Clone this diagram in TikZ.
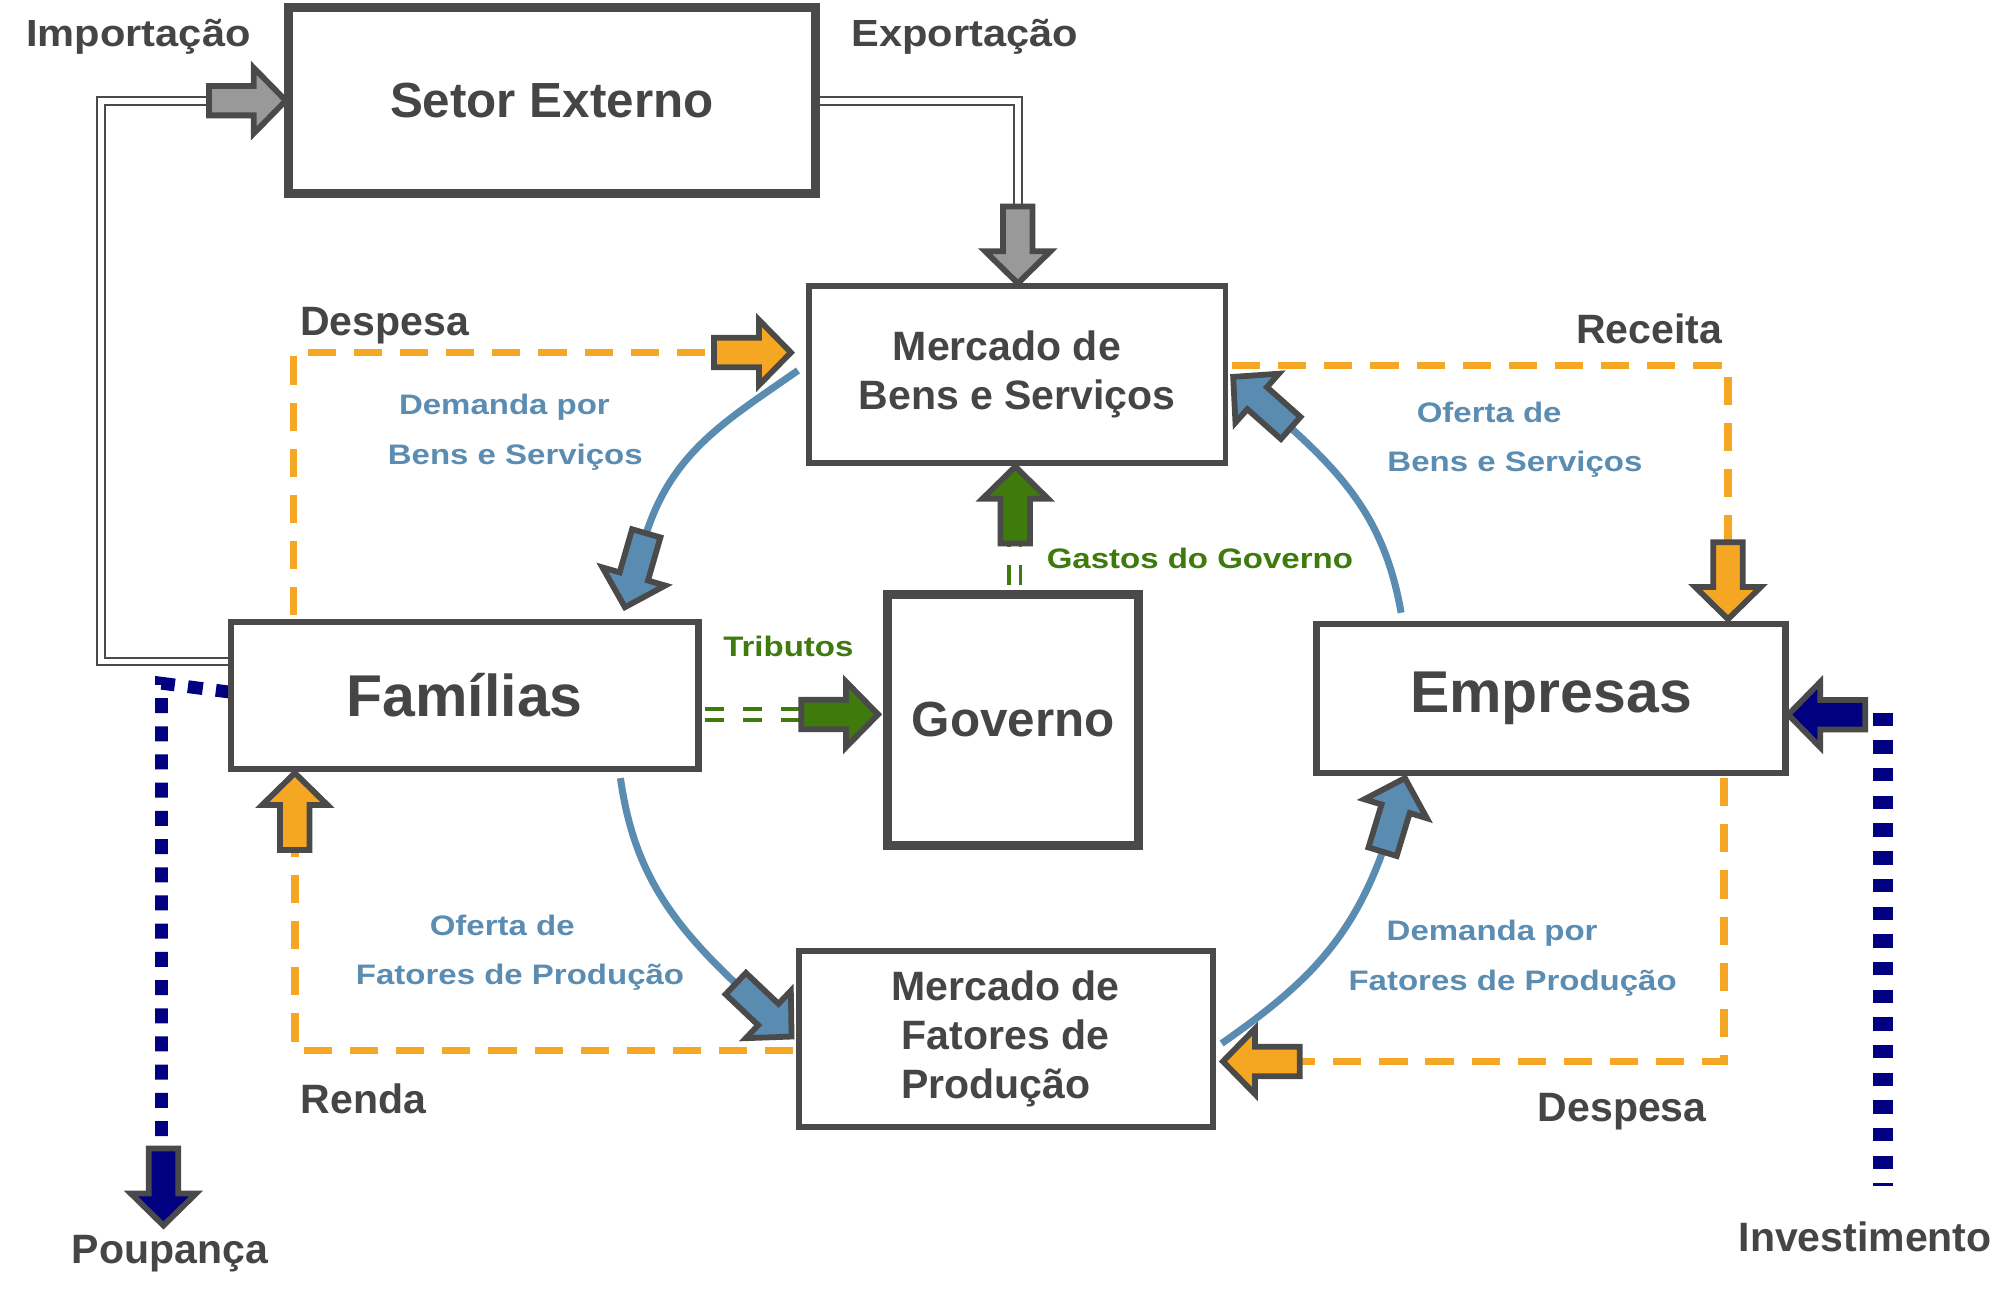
\documentclass[tikz,border=0pt]{standalone}
\usepackage{fontspec}
\setmainfont{Liberation Sans}
\newfontfamily\widefont[FakeStretch=1.17]{Liberation Sans}
\newfontfamily\semiwidefont[FakeStretch=1.1]{Liberation Sans}
\usetikzlibrary{calc}
\definecolor{dg}{HTML}{4A4A4A}
\definecolor{txt}{HTML}{454545}
\definecolor{org}{HTML}{F5A623}
\definecolor{stb}{HTML}{5A8BB0}
\definecolor{stbt}{HTML}{5B8DB3}
\definecolor{grn}{HTML}{3E7A0C}
\definecolor{nvy}{HTML}{000080}
\definecolor{gfill}{HTML}{999999}
\newcommand\blockarrow[3]{%
  \draw[arrowline,fill=#1,shift={(#2)},rotate={-1*(#3)}] (0,0) -- (-25,-25.5) -- (-25,-11.5) -- (-60,-11.5) -- (-60,11.5) -- (-25,11.5) -- (-25,25.5) -- cycle;}
\begin{document}
\begin{tikzpicture}[x=1pt,y=-1pt,
  arrowline/.style={draw=dg, line width=4.5pt, line join=miter, miter limit=10},
  box/.style={draw=dg, fill=white, line width=4.5pt, inner sep=0pt, text=txt},
  dbl/.style={draw=dg, line width=1.6pt, double=white, double distance=4.5pt},
  odash/.style={draw=org, line width=6pt, dash pattern=on 22pt off 14pt},
  bluearc/.style={draw=stb, line width=5.5pt},
  nvyP/.style={draw=nvy, line width=10pt, dash pattern=on 11.7pt off 10.3pt},
  nvyI/.style={draw=nvy, line width=16pt, dash pattern=on 10.4pt off 11.2pt},
  gdash/.style={draw=grn, line width=2.6pt, dash pattern=on 15pt off 14.6pt},
  glabel/.style={text=txt, font=\bfseries\fontsize{32}{38}\selectfont, anchor=base, inner sep=0pt},
  wlabel/.style={text=txt, font=\semiwidefont\bfseries\fontsize{29.5}{35}\selectfont, anchor=base, inner sep=0pt},
  blabel/.style={text=stbt, font=\widefont\bfseries\fontsize{22}{26}\selectfont, anchor=base, inner sep=0pt},
  grlabel/.style={text=grn, font=\widefont\bfseries\fontsize{22}{26}\selectfont, anchor=base, inner sep=0pt}
]
\useasboundingbox (0,0) rectangle (1568,1007);
\fill[white] (0,0) rectangle (1568,1007);

% arrow tips and rears
\coordinate (impTip) at (223,78.5);   \coordinate (impRear) at (163,78.5);
\coordinate (expTip) at (794,221);    \coordinate (expRear) at (794,161);
\coordinate (dATip) at (617,275);     \coordinate (dARear) at (557,275);
\coordinate (recTip) at (1348,483);   \coordinate (recRear) at (1348,423);
\coordinate (renTip) at (230,603);    \coordinate (renRear) at (230,663);
\coordinate (dBTip) at (954,828);     \coordinate (dBRear) at (1014,828);
\coordinate (invTip) at (1395,557.5); \coordinate (invRear) at (1455,557.5);
\coordinate (poTip) at (127.5,956);   \coordinate (poRear) at (127.5,896);
\coordinate (trTip) at (685,557.3);   \coordinate (trRear) at (625,557.3);
\coordinate (gaTip) at (792,364);     \coordinate (gaRear) at (792,424);
\coordinate (bATip) at (487.5,473.7); \coordinate (bARear) at (504.1,416.1);
\coordinate (bBTip) at (962,294);     \coordinate (bBRear) at (1006.9,333.8);
\coordinate (bCTip) at (617.5,808.6); \coordinate (bCRear) at (574,767.3);
\coordinate (bDTip) at (1096,607);    \coordinate (bDRear) at (1078.6,664.4);

% connector ends at boxes
\coordinate (famImp) at (180,516);
\coordinate (setE) at (636,78.5);
\coordinate (famTop) at (229,480);
\coordinate (mbsE) at (961,285);
\coordinate (mfpW) at (619,819.5);
\coordinate (empBot) at (1345,607);
\coordinate (famPo) at (180,540);
\coordinate (invTop) at (1469,556);
\coordinate (invEnd) at (1469,925);
\coordinate (mbsL) at (622.5,289);
\coordinate (empTop) at (1093,478);
\coordinate (famBot) at (484,607);
\coordinate (mfpR) at (953,814);

% double gray lines
\draw[dbl] (famImp) -- (78.5,516) |- (impRear);
\draw[dbl] (setE) -| (expRear);

% orange dashed
\draw[odash] (famTop) |- (dARear);
\draw[odash] (mbsE) -| (recRear);
\draw[odash] (mfpW) -| (renRear);
\draw[odash] (empBot) |- (dBRear);

% navy dotted
\draw[nvyP] (famPo) -- (126,533) -- (126,896);
\draw[nvyI] (invTop) -- (invEnd);

% green dashed doubles
\draw[gdash] (550,553) -- (625,553);
\draw[gdash] (550,561.6) -- (625,561.6);
\draw[gdash] (787,456) -- (787,420);
\draw[gdash] (796,456) -- (796,420);

% blue arcs (out/in are page angles)
\draw[bluearc] (mbsL) to[out=-145,in=72] (bARear);
\draw[bluearc] (empTop) to[out=100,in=-42] (bBRear);
\draw[bluearc] (famBot) to[out=-82,in=136.5] (bCRear);
\draw[bluearc] (mfpR) to[out=35,in=-110] (bDRear);

% boxes
\node[box, line width=7pt, minimum width=411pt, minimum height=145pt, font=\bfseries\fontsize{38.5}{46}\selectfont] (setor) at (430.5,78.5) {Setor Externo};
\node[box, minimum width=325pt, minimum height=138pt, align=center, font=\bfseries\fontsize{32}{38.5}\selectfont] (mbs) at (793.5,292) {Mercado de\hspace*{16pt}\\Bens e Serviços};
\node[box, line width=5pt, minimum width=365pt, minimum height=115pt, font=\bfseries\fontsize{46}{55}\selectfont, text height=33pt, text depth=0pt] (fam) at (362.5,542.5) {Famílias};
\node[box, line width=7pt, minimum width=196pt, minimum height=196pt, font=\bfseries\fontsize{38.5}{46}\selectfont] (gov) at (790.5,561.5) {Governo};
\node[box, line width=5pt, minimum width=366pt, minimum height=116pt, font=\bfseries\fontsize{46}{55}\selectfont] (emp) at (1210,545) {Empresas};
\node[box, minimum width=323pt, minimum height=137pt, align=center, font=\bfseries\fontsize{32}{38.5}\selectfont] (mfp) at (784.5,810.5) {Mercado de\\Fatores de\hspace*{15pt}\\Produção\hspace*{15pt}};

% block arrows
\blockarrow{gfill}{impTip}{0}
\blockarrow{gfill}{expTip}{90}
\blockarrow{org}{dATip}{0}
\blockarrow{org}{recTip}{90}
\blockarrow{org}{renTip}{-90}
\blockarrow{org}{dBTip}{180}
\blockarrow{nvy}{invTip}{180}
\blockarrow{nvy}{poTip}{90}
\blockarrow{grn}{trTip}{0}
\blockarrow{grn}{gaTip}{-90}
\blockarrow{stb}{bATip}{106.1}
\blockarrow{stb}{bBTip}{-138.4}
\blockarrow{stb}{bCTip}{43.5}
\blockarrow{stb}{bDTip}{-73.1}

% labels
\node[wlabel] (limp) at (108,36.4) {Importação};
\node[wlabel] (lexp) at (752.7,36.4) {Exportação};
\node[glabel] (ldespA) at (300,262) {Despesa};
\node[glabel] (lrec) at (1286.6,267.8) {Receita};
\node[glabel] (lrenda) at (283.5,868.4) {Renda};
\node[glabel] (ldespB) at (1265.5,875) {Despesa};
\node[glabel] (lpoup) at (132.5,985.4) {Poupança};
\node[glabel] (linv) at (1455,976.4) {Investimento};

\node[blabel] (dbs1) at (393.5,323.5) {Demanda por};
\node[blabel] (dbs2) at (402,362.5) {Bens e Serviços};
\node[blabel] (obs1) at (1161.7,329.7) {Oferta de};
\node[blabel] (obs2) at (1181.8,368) {Bens e Serviços};
\node[blabel] (ofp1) at (391.8,730) {Oferta de};
\node[blabel] (ofp2) at (405.7,768.3) {Fatores de Produção};
\node[blabel] (dfp1) at (1164,733.8) {Demanda por};
\node[blabel] (dfp2) at (1180,772.3) {Fatores de Produção};

\node[grlabel] (lgast) at (936,443.3) {Gastos do Governo};
\node[grlabel] (ltrib) at (615,512.2) {Tributos};
\end{tikzpicture}
\end{document}
